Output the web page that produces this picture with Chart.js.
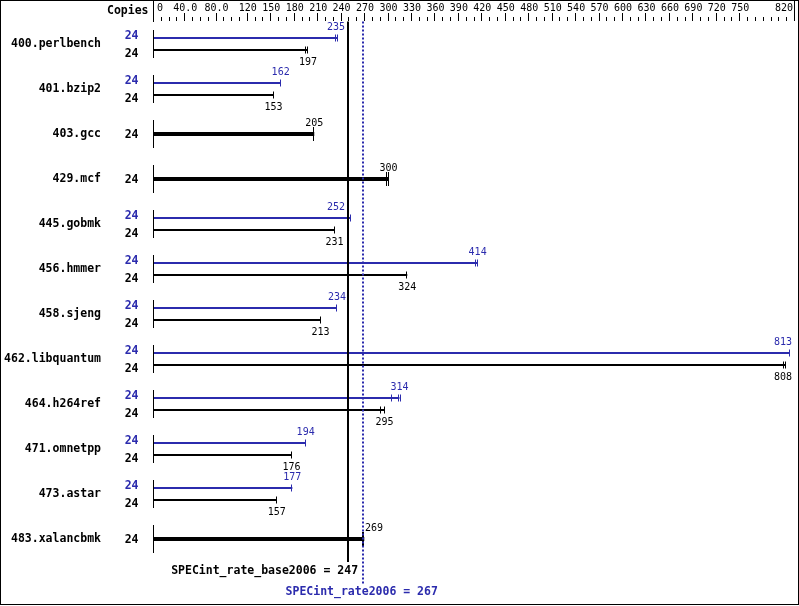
<!DOCTYPE html>
<html><head><meta charset="utf-8">
<script src="https://cdn.jsdelivr.net/npm/chart.js@4/dist/chart.umd.min.js"></script>
<style>html,body{margin:0;padding:0;background:#fff}</style>
</head><body>
<canvas id="c" width="799" height="606" style="width:799px;height:606px;display:block"></canvas>
<script>
// ---- data ----
const benchmarks = ['400.perlbench','401.bzip2','403.gcc','429.mcf','445.gobmk','456.hmmer','458.sjeng','462.libquantum','464.h264ref','471.omnetpp','473.astar','483.xalancbmk'];
const copies      = [24,24,24,24,24,24,24,24,24,24,24,24];
const peakValues  = [235,162,null,null,252,414,234,813,314,194,177,null];
const baseValues  = [197,153,205,300,231,324,213,808,295,176,157,269];
const peakOtherRuns = [[233],[],[],[],[],[412],[],[],[305,316],[],[],[]];
const baseOtherRuns = [[195],[],[],[298],[],[],[],[806],[290],[],[],[268]];
const axisLabelValues = [0,40,80,120,150,180,210,240,270,300,330,360,390,420,450,480,510,540,570,600,630,660,690,720,750,820];
const axisLabels = ['0','40.0','80.0','120','150','180','210','240','270','300','330','360','390','420','450','480','510','540','570','600','630','660','690','720','750','820'];
const axisMax = 820;
const minorStep = 10;
const baseMean = 247;
const peakMean = 267;

const BLUE = '#2b2bad';
const MONO = '"DejaVu Sans Mono", monospace';

function crisp(x){ return Math.floor(x - 0.5) + 0.5; }

const specPlugin = {
  id: 'spec',
  afterDraw(chart) {
    const ctx = chart.ctx, xs = chart.scales.x, ys = chart.scales.y, ca = chart.chartArea;
    const line = (x1,y1,x2,y2) => { ctx.beginPath(); ctx.moveTo(x1,y1); ctx.lineTo(x2,y2); ctx.stroke(); };
    ctx.save();
    ctx.strokeStyle = '#000'; ctx.lineWidth = 1;
    // frame
    ctx.strokeRect(0.5, 0.5, 798, 604);
    // top axis ticks
    for (let v = 0; v <= axisMax; v += minorStep) {
      const x = crisp(xs.getPixelForValue(v));
      const major = axisLabelValues.includes(v);
      line(x, major ? 13 : 17, x, 21);
    }
    line(crisp(xs.getPixelForValue(0)), 0, crisp(xs.getPixelForValue(0)), 22);
    line(crisp(xs.getPixelForValue(axisMax)), 0, crisp(xs.getPixelForValue(axisMax)), 21);
    // top axis labels
    ctx.font = '10px ' + MONO; ctx.fillStyle = '#000'; ctx.textBaseline = 'alphabetic';
    axisLabelValues.forEach((v, i) => {
      const x = xs.getPixelForValue(v);
      if (i === 0) { ctx.textAlign = 'left'; ctx.fillText(axisLabels[i], x + 3, 11); }
      else if (i === axisLabelValues.length - 1) { ctx.textAlign = 'right'; ctx.fillText(axisLabels[i], x - 2, 11); }
      else { ctx.textAlign = 'center'; ctx.fillText(axisLabels[i], x, 11); }
    });
    // Copies header
    ctx.font = 'bold 11.5px ' + MONO; ctx.textAlign = 'right';
    ctx.fillText('Copies', 148.5, 13.5);

    const xBase = xs.getPixelForValue(baseMean), xPeak = xs.getPixelForValue(peakMean);
    const vlines = [Math.round(xBase) + 1, Math.round(xPeak)];
    const metaPeak = chart.getDatasetMeta(0), metaBase = chart.getDatasetMeta(1), metaSingle = chart.getDatasetMeta(2);
    const x0 = crisp(xs.getPixelForValue(0));

    function valueLabel(text, v, y, color) {
      ctx.font = '10px ' + MONO; ctx.fillStyle = color; ctx.textAlign = 'left';
      const w = ctx.measureText(text).width;
      const cx = xs.getPixelForValue(v);
      let l = cx - w / 2, r = cx + w / 2;
      const hits = (a, b) => vlines.filter(L => a < L + 2 && b > L - 2);
      let h = hits(l, r);
      if (h.length) {
        const nr = Math.min(...h) - 3, nl = nr - w;
        if (!hits(nl, nr).length) { l = nl; r = nr; }
        else { l = Math.max(...h) + 2; r = l + w; }
      }
      if (r > 792) { r = 792; l = r - w; }
      ctx.fillText(text, l, y);
    }

    benchmarks.forEach((b, i) => {
      const c = ys.getPixelForValue(i);
      ctx.strokeStyle = '#000'; ctx.lineWidth = 1;
      line(x0, c - 14, x0, c + 14);
      ctx.font = 'bold 11.5px ' + MONO; ctx.textAlign = 'right';
      if (peakValues[i] != null) {
        ctx.fillStyle = BLUE; ctx.fillText(String(copies[i]), 138.5, c - 5.5);
        ctx.fillStyle = '#000'; ctx.fillText(String(copies[i]), 138.5, c + 12.5);
        const yp = metaPeak.data[i].y, yb = metaBase.data[i].y;
        ctx.strokeStyle = BLUE;
        [peakValues[i], ...peakOtherRuns[i]].forEach(v => { const x = crisp(xs.getPixelForValue(v)); line(x, yp - 3.5, x, yp + 3.5); });
        ctx.strokeStyle = '#000';
        [baseValues[i], ...baseOtherRuns[i]].forEach(v => { const x = crisp(xs.getPixelForValue(v)); line(x, yb - 3.5, x, yb + 3.5); });
        valueLabel(String(peakValues[i]), peakValues[i], yp - 8, BLUE);
        valueLabel(String(baseValues[i]), baseValues[i], yb + 15, '#000');
      } else {
        ctx.fillStyle = '#000'; ctx.fillText(String(copies[i]), 138.5, c + 3.8);
        const ys1 = metaSingle.data[i].y;
        ctx.strokeStyle = '#000';
        [baseValues[i], ...baseOtherRuns[i]].forEach(v => { const x = crisp(xs.getPixelForValue(v)); line(x, ys1 - 7, x, ys1 + 7); });
        valueLabel(String(baseValues[i]), baseValues[i], ys1 - 8, '#000');
      }
    });

    // mean lines
    ctx.strokeStyle = '#000'; ctx.lineWidth = 2;
    line(vlines[0], ca.top, vlines[0], ca.bottom + 0.5);
    ctx.strokeStyle = BLUE; ctx.setLineDash([2, 2]);
    line(vlines[1], ca.top, vlines[1], 584);
    ctx.setLineDash([]);
    ctx.font = 'bold 11.5px ' + MONO;
    ctx.fillStyle = '#000'; ctx.textAlign = 'right';
    ctx.fillText('SPECint_rate_base2006 = ' + baseMean, xBase + 11, 573.5);
    ctx.fillStyle = BLUE; ctx.textAlign = 'center';
    ctx.fillText('SPECint_rate2006 = ' + peakMean, xPeak - 1, 595);
    ctx.restore();
  }
};

new Chart(document.getElementById('c'), {
  type: 'bar',
  data: {
    labels: benchmarks,
    datasets: [
      { label: 'peak', stack: 'p', data: peakValues, backgroundColor: BLUE, maxBarThickness: 2, skipNull: true },
      { label: 'base', stack: 'b', data: baseValues.map((v, i) => peakValues[i] == null ? null : v), backgroundColor: '#000', maxBarThickness: 2, skipNull: true },
      { label: 'base=peak', stack: 's', data: baseValues.map((v, i) => peakValues[i] == null ? v : null), backgroundColor: '#000', maxBarThickness: 4, skipNull: true }
    ]
  },
  options: {
    indexAxis: 'y', responsive: false, animation: false, devicePixelRatio: 1,
    layout: { padding: { left: 0, right: 4, top: 21.5, bottom: 44.5 } },
    datasets: { bar: { categoryPercentage: 24 / 45, barPercentage: 1, inflateAmount: 0, borderWidth: 0 } },
    plugins: { legend: { display: false }, tooltip: { enabled: false } },
    scales: {
      x: { type: 'linear', min: 0, max: axisMax, display: false },
      y: {
        type: 'category', position: 'left',
        grid: { display: false, drawTicks: false }, border: { display: false },
        ticks: { color: '#000', padding: 53, autoSkip: false, font: { family: MONO, weight: 'bold', size: 11.5 } },
        afterFit(s) { s.width = 154; s.paddingTop = 0; s.paddingBottom = 0; }
      }
    }
  },
  plugins: [specPlugin]
});
</script>
</body></html>
